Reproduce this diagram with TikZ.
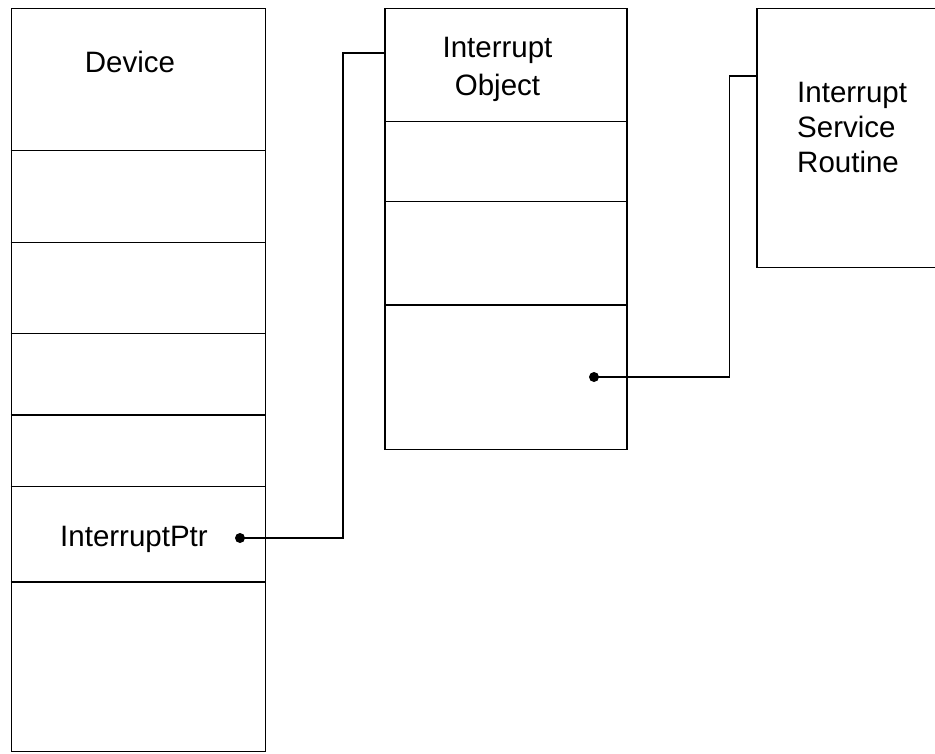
\documentclass[tikz,border=0pt]{standalone}
\usepackage{fontspec}
\setmainfont{Liberation Sans}
\begin{document}
\begin{tikzpicture}[x=1pt,y=-1pt,
  box/.style={draw, line width=1.6pt, anchor=north west, inner sep=0pt},
  lbl/.style={font=\fontsize{29.5}{35}\selectfont, inner sep=0pt, align=center},
  wire/.style={line width=1.4pt},
  dotc/.style={circle, fill=black, inner sep=0pt, minimum size=10pt}]
\useasboundingbox (0,0) rectangle (935,753);
% Device column
\node[box, minimum width=254pt, minimum height=743pt] (device) at (10.5,7.5) {};
\foreach \yy in {150.5,242.5,333.5,415,486.5,582}
  \draw[line width=1.6pt] (device.west |- 0,\yy) -- (device.east |- 0,\yy);
\node[lbl, anchor=base] (devlbl) at (130,72) {Device};
\node[lbl, anchor=base west] (ptrlbl) at (60,546) {InterruptPtr};
\node[dotc] (dot1) at (240,538) {};
% Interrupt Object column
\node[box, minimum width=242pt, minimum height=441pt] (io) at (384,7.5) {};
\foreach \yy in {121.5,201.5,305}
  \draw[line width=1.6pt] (io.west |- 0,\yy) -- (io.east |- 0,\yy);
\node[lbl, font=\fontsize{29.5}{38}\selectfont, anchor=north] (iolbl) at (497.5,37) {Interrupt\\Object};
\node[dotc] (dot2) at (594,377) {};
% ISR box
\node[box, minimum width=200pt, minimum height=259pt] (isr) at (756,7.5) {};
\node[lbl, align=left, anchor=north west] (isrlbl) at (797,82) {Interrupt\\Service\\Routine};
% connectors
\coordinate (in1) at (io.west |- 0,53);
\coordinate (in2) at (isr.west |- 0,76);
\draw[wire] (dot1.center) -- (343,538) |- (in1);
\draw[wire] (dot2.center) -- (729.5,377) |- (in2);
\end{tikzpicture}
\end{document}
